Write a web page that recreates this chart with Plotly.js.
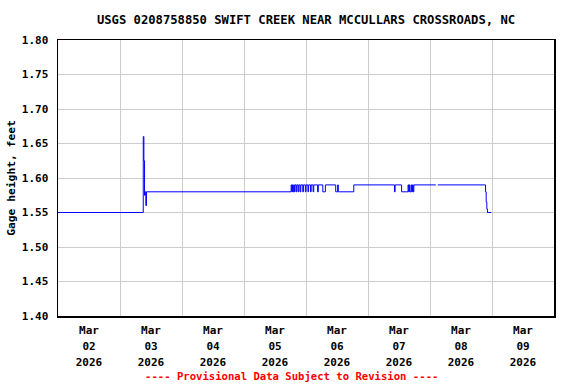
<!DOCTYPE html>
<html>
<head>
<meta charset="utf-8">
<script src="https://cdn.plot.ly/plotly-3.0.1.min.js"></script>
<style>html,body{margin:0;padding:0;background:#fff;}#chart{width:576px;height:384px;}</style>
</head>
<body>
<div id="chart"></div>
<script>
// Gage height readings (step changes), feet
const times = [
  '2026-03-02 00:00','2026-03-03 09:00','2026-03-03 09:15','2026-03-03 09:30','2026-03-03 09:45','2026-03-03 10:00','2026-03-03 10:15',
  '2026-03-05 18:15','2026-03-05 18:30','2026-03-05 18:45','2026-03-05 19:00','2026-03-05 19:15','2026-03-05 19:30','2026-03-05 19:45',
  '2026-03-05 20:15','2026-03-05 20:30','2026-03-05 21:00','2026-03-05 21:15','2026-03-05 21:45','2026-03-05 22:00','2026-03-05 22:45',
  '2026-03-05 23:00','2026-03-05 23:45','2026-03-06 00:00','2026-03-06 00:45','2026-03-06 01:00','2026-03-06 01:45','2026-03-06 02:00',
  '2026-03-06 02:45','2026-03-06 03:00','2026-03-06 04:30','2026-03-06 04:45','2026-03-06 06:30','2026-03-06 07:30','2026-03-06 11:30',
  '2026-03-06 12:15','2026-03-06 12:30','2026-03-06 13:30','2026-03-06 18:30','2026-03-07 10:15','2026-03-07 10:30','2026-03-07 13:00',
  '2026-03-07 15:30','2026-03-07 15:45','2026-03-07 16:00','2026-03-07 16:15','2026-03-07 16:45','2026-03-07 17:00','2026-03-07 17:15',
  '2026-03-07 17:30','2026-03-07 17:45','2026-03-08 02:15','2026-03-08 02:30','2026-03-08 03:00','2026-03-08 21:15','2026-03-08 21:30',
  '2026-03-08 21:45','2026-03-08 22:00','2026-03-08 22:15','2026-03-08 23:45'
];
const gageHeight = [
  1.55,1.66,1.625,1.575,1.58,1.56,1.58,
  1.59,1.58,1.59,1.58,1.59,1.58,1.59,
  1.58,1.59,1.58,1.59,1.58,1.59,1.58,
  1.59,1.58,1.59,1.58,1.59,1.58,1.59,
  1.58,1.59,1.58,1.59,1.58,1.59,1.58,
  1.59,1.58,1.58,1.59,1.58,1.59,1.58,
  1.59,1.58,1.59,1.58,1.59,1.58,1.59,
  1.58,1.59,1.59,null,1.59,1.59,1.58,
  1.565,1.555,1.55,1.55
];
const tickDates = ['2026-03-02 12:00','2026-03-03 12:00','2026-03-04 12:00','2026-03-05 12:00','2026-03-06 12:00','2026-03-07 12:00','2026-03-08 12:00','2026-03-09 12:00'];
const tickMonth = ['Mar','Mar','Mar','Mar','Mar','Mar','Mar','Mar'];
const tickDay = ['02','03','04','05','06','07','08','09'];
const tickYear = ['2026','2026','2026','2026','2026','2026','2026','2026'];
const yTicks = [1.40,1.45,1.50,1.55,1.60,1.65,1.70,1.75,1.80];
const yTickText = ['1.40','1.45','1.50','1.55','1.60','1.65','1.70','1.75','1.80'];

const mono = '"DejaVu Sans Mono", "Liberation Mono", monospace';
const sp = s => '<span style="font-size:11px"><b>' + s + '</b></span>';
const xTickText = tickDates.map((d, i) => sp(tickMonth[i]) + '<br>' + sp(tickDay[i]) + '<br>' + sp(tickYear[i]));

const trace = {
  x: times, y: gageHeight, type: 'scatter', mode: 'lines',
  line: {color: '#0000ff', width: 1, shape: 'hv'},
  connectgaps: false, hoverinfo: 'skip'
};

const layout = {
  width: 576, height: 384,
  margin: {l: 58, r: 22, t: 40, b: 68},
  paper_bgcolor: '#fff', plot_bgcolor: '#fff',
  showlegend: false,
  title: {text: '<b>USGS 0208758850 SWIFT CREEK NEAR MCCULLARS CROSSROADS, NC</b>',
          font: {family: mono, size: 12.2, color: '#000'},
          x: 0.5, xref: 'paper', xanchor: 'center', y: 1 - 20/384, yanchor: 'middle'},
  xaxis: {
    type: 'date', range: ['2026-03-02 00:00', '2026-03-10 00:00'],
    tickmode: 'array', tickvals: tickDates, ticktext: xTickText,
    tickfont: {family: mono, size: 12.3, color: '#000'},
    ticks: '', showgrid: false, ticklabelstandoff: 2,
    showline: true, linecolor: '#000', linewidth: 1.5, mirror: true,
    minor: {dtick: 86400000, tick0: '2026-03-02', showgrid: true, gridcolor: '#cccccc', gridwidth: 1, ticks: ''},
    zeroline: false, fixedrange: true
  },
  yaxis: {
    range: [1.40, 1.80], tickmode: 'array', tickvals: yTicks, ticktext: yTickText.map(t => '<b>' + t + '</b>'),
    tickfont: {family: mono, size: 11, color: '#000'},
    ticks: '', ticklabelstandoff: 6,
    showgrid: true, gridcolor: '#cccccc', gridwidth: 1,
    showline: true, linecolor: '#000', linewidth: 1.5, mirror: true,
    zeroline: false, fixedrange: true,
    title: {text: '<b>Gage height, feet</b>', font: {family: mono, size: 11.3, color: '#000'}, standoff: 4}
  },
  annotations: [{
    text: '<b>---- Provisional Data Subject to Revision ----</b>',
    xref: 'paper', yref: 'paper', x: (291 - 58) / 496, y: -(376 - 316) / 276,
    xanchor: 'center', yanchor: 'middle', showarrow: false,
    font: {family: mono, size: 10.6, color: '#ff0000'}
  }]
};

Plotly.newPlot('chart', [trace], layout, {staticPlot: true, displayModeBar: false});
</script>
</body>
</html>
